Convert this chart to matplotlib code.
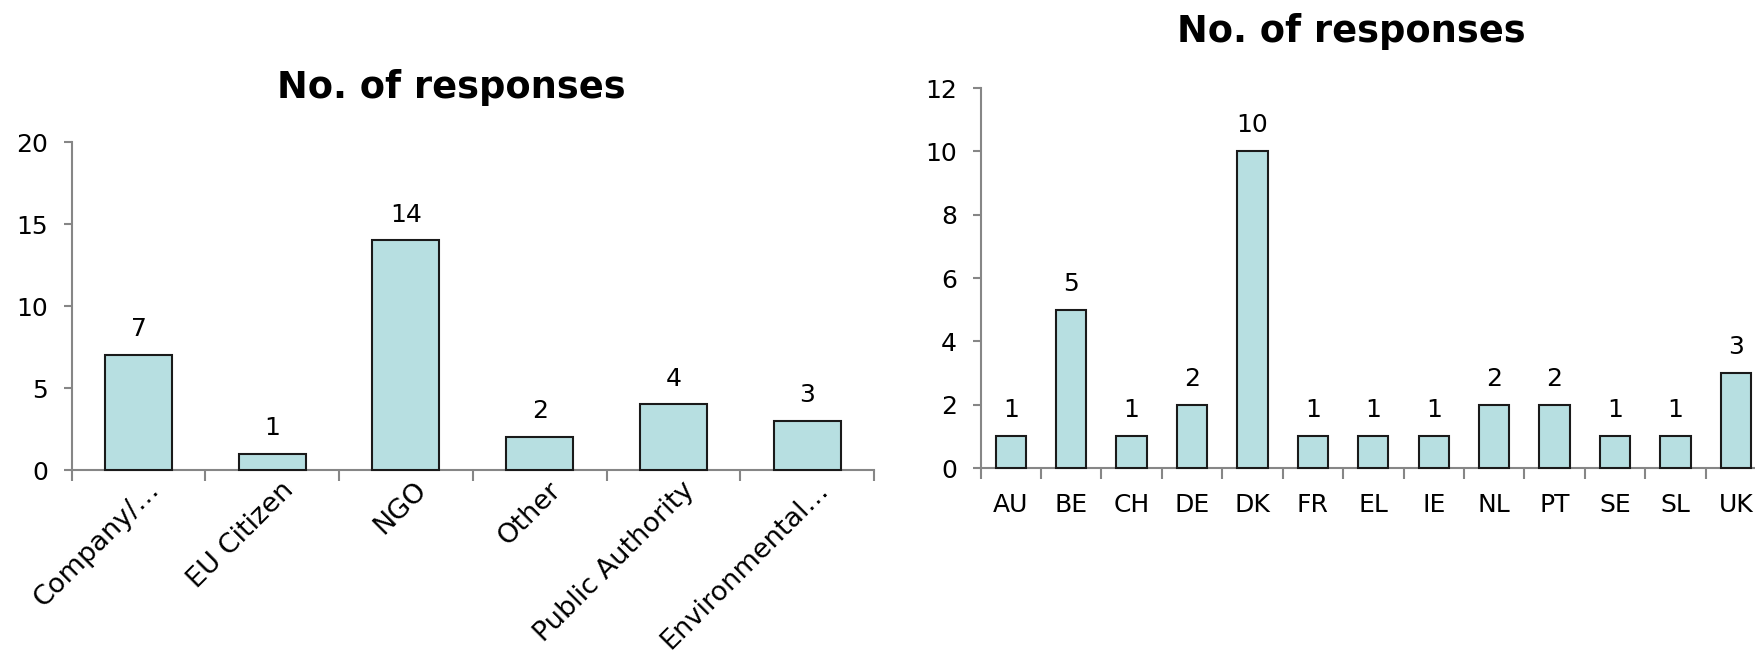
import matplotlib
matplotlib.use("Agg")
import matplotlib.pyplot as plt
import matplotlib.transforms as mtransforms
import numpy as np

# responses by stakeholder type
stakeholders = ["Company/…", "EU Citizen", "NGO", "Other", "Public Authority", "Environmental…"]
stakeholder_counts = [7, 1, 14, 2, 4, 3]

# responses by country
countries = ["AU", "BE", "CH", "DE", "DK", "FR", "EL", "IE", "NL", "PT", "SE", "SL", "UK"]
country_counts = [1, 5, 1, 2, 10, 1, 1, 1, 2, 2, 1, 1, 3]

BAR_COLOR = "#b7dfe1"
AXIS_COLOR = "#868686"
FONT = 18

plt.rcParams["font.family"] = "DejaVu Sans"


def style_axis(ax, n, ymax, ystep):
    ax.set_xlim(-0.5, n - 0.5)
    ax.set_ylim(0, ymax)
    ax.set_yticks(np.arange(0, ymax + 1, ystep))
    ax.set_xticks(np.arange(n))
    ax.set_xticks(np.arange(-0.5, n, 1.0), minor=True)
    for side in ("top", "right"):
        ax.spines[side].set_visible(False)
    for side in ("left", "bottom"):
        ax.spines[side].set_color(AXIS_COLOR)
        ax.spines[side].set_linewidth(1.5)
    ax.tick_params(axis="x", which="major", length=0, labelsize=FONT)
    ax.tick_params(axis="x", which="minor", length=8, width=1.5, color=AXIS_COLOR)
    ax.tick_params(axis="y", length=6, width=1.5, color=AXIS_COLOR, labelsize=FONT, pad=11)


def draw_bars(ax, values):
    x = np.arange(len(values))
    bars = ax.bar(x, values, 0.5, color=BAR_COLOR, edgecolor="#1a1a1a", linewidth=1.5,
                  zorder=3, clip_on=False)
    for rect, v in zip(bars, values):
        ax.annotate(str(v), (rect.get_x() + rect.get_width() / 2, v),
                    xytext=(0, 10), textcoords="offset points",
                    ha="center", va="bottom", fontsize=FONT)


fig = plt.figure(figsize=(17.55, 6.53), dpi=100)

# left: stakeholder types
ax1 = fig.add_axes([0.0408, 0.2802, 0.4572, 0.5023])
draw_bars(ax1, stakeholder_counts)
style_axis(ax1, len(stakeholders), 20, 5)
ax1.set_xticklabels(stakeholders, rotation=45, ha="right", va="top",
                    rotation_mode="anchor", fontsize=19.5)
ax1.tick_params(axis="x", which="major", pad=5)
shift = mtransforms.ScaledTranslation(8 / 100, 0, fig.dpi_scale_trans)
for lbl in ax1.get_xticklabels():
    lbl.set_transform(lbl.get_transform() + shift)

# right: countries (axis runs past the right edge)
ax2 = fig.add_axes([0.5587, 0.2833, 0.4476, 0.5819])
draw_bars(ax2, country_counts)
style_axis(ax2, len(countries), 12, 2)
ax2.set_xticklabels(countries)
ax2.tick_params(axis="x", which="major", pad=18)

fig.text(451 / 1755, 1 - 87 / 653, "No. of responses", ha="center", va="center",
         fontsize=26.5, fontweight="bold")
fig.text(1351 / 1755, 1 - 31 / 653, "No. of responses", ha="center", va="center",
         fontsize=26.5, fontweight="bold")

fig.savefig("out.png", dpi=100, facecolor="white")
